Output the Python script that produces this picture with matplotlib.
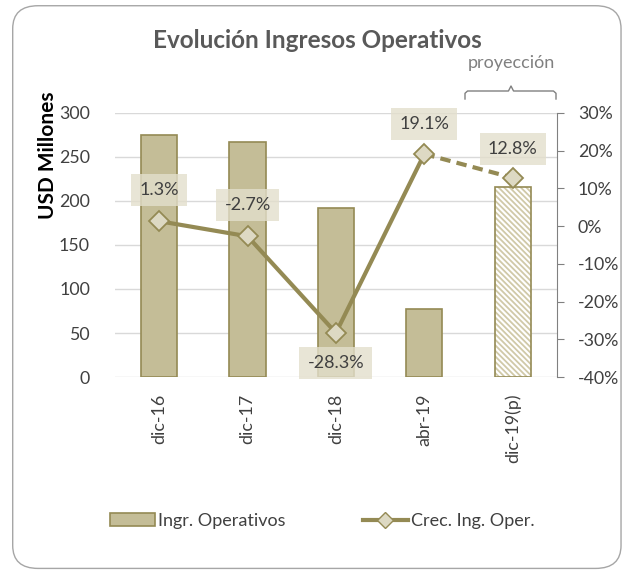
import matplotlib
matplotlib.use("Agg")
import matplotlib.pyplot as plt
from matplotlib.patches import FancyBboxPatch
from matplotlib.lines import Line2D
from matplotlib.patches import Patch
import numpy as np

categories = ["dic-16", "dic-17", "dic-18", "abr-19", "dic-19(p)"]
ingresos = [275, 267, 192, 77, 216]
crecimiento = [1.3, -2.7, -28.3, 19.1, 12.8]
label_offsets = [31, 31, -30, 30, 29]  # pixels, label above(+)/below(-)

plt.rcParams['font.family'] = ['Lato', 'DejaVu Sans']

bar_fill = "#c4bd97"
bar_edge = "#948a54"
line_col = "#948a54"
marker_fill = "#ddd9c3"
text_col = "#404040"
grey = "#808080"

fig = plt.figure(figsize=(6.35, 5.73), dpi=100)
border = FancyBboxPatch((0.02, 0.008), 0.958, 0.982, boxstyle="round,pad=0,rounding_size=0.04",
                        transform=fig.transFigure, fill=False, edgecolor="#a6a6a6", linewidth=1.0)
fig.patches.append(border)

ax = fig.add_axes([0.181, 0.342, 0.696, 0.461])
x = np.arange(len(categories))
w = 0.41
ax.bar(x[:-1], ingresos[:-1], width=w, color=bar_fill, edgecolor=bar_edge, linewidth=1.2, zorder=2)
plt.rcParams['hatch.color'] = "#d0c9a8"
plt.rcParams['hatch.linewidth'] = 1.3
ax.bar(x[-1:], ingresos[-1:], width=w, color="white", edgecolor="#d0c9a8", hatch="\\\\\\\\\\\\", linewidth=0, zorder=2)
ax.bar(x[-1:], ingresos[-1:], width=w, color="none", edgecolor=bar_edge, linewidth=1.2, zorder=3)

ax.set_ylim(0, 300)
ax.set_yticks(range(0, 301, 50))
ax.set_xlim(-0.5, len(categories) - 0.5)
ax.set_xticks(x)
ax.set_xticklabels(categories, rotation=90, fontsize=12.8, color=text_col)
ax.tick_params(axis='x', length=0, pad=12)
ax.tick_params(axis='y', length=0, labelsize=12.8, labelcolor=text_col, pad=18)
ax.grid(axis='y', color="#d9d9d9", linewidth=1, zorder=0)
ax.set_axisbelow(True)
for s in ax.spines.values():
    s.set_visible(False)
ax.set_ylabel("USD Millones", fontsize=15, fontweight='bold', color="black")
ax.yaxis.set_label_coords(-0.128, 0.84)

ax2 = ax.twinx()
ax2.set_ylim(-40, 30)
ax2.set_yticks(range(-40, 31, 10))
ax2.set_yticklabels([f"{v}%" for v in range(-40, 31, 10)])
ax2.tick_params(axis='y', direction='out', length=5, color=grey, labelsize=12.8, labelcolor=text_col, pad=10)
for k, s in ax2.spines.items():
    s.set_visible(k == 'right')
ax2.spines['right'].set_color(grey)

ax2.plot(x[:-1], crecimiento[:-1], color=line_col, linewidth=3, zorder=4, solid_capstyle='round')
ax2.plot(x[-2:], crecimiento[-2:], color=line_col, linewidth=3, linestyle=(0, (2.5, 1.5)), zorder=4)
ax2.plot(x, crecimiento, linestyle='none', marker='D', markersize=10, markerfacecolor=marker_fill,
         markeredgecolor=line_col, markeredgewidth=1.3, zorder=5)

for xi, v, off in zip(x, crecimiento, label_offsets):
    ax2.annotate(f"{v}%", (xi, v), xytext=(0, off), textcoords='offset pixels', ha='center', va='center',
                 fontsize=13, color=text_col, zorder=6,
                 bbox=dict(boxstyle="square,pad=0.45", facecolor="#e3dfcc", edgecolor="none", alpha=0.8))

fig.text(0.5, 1 - 40/573, "Evolución Ingresos Operativos", ha='center', va='center', fontsize=17.5,
         fontweight='bold', color="#595959")

# proyección bracket
fig.text(511/635, 1 - 63/573, "proyección", ha='center', va='center', fontsize=13, color=grey)
bx0, bx1, bm = 465/635, 556/635, 511/635
yb, yt = 1 - 99/573, 1 - 86/573
ymid = 1 - 91/573
fig.lines.append(Line2D([bx0, bx0, bx0 + 0.004, bm - 0.004, bm, bm + 0.004, bx1 - 0.004, bx1, bx1],
                        [yb, ymid - 0.004, ymid, ymid, yt, ymid, ymid, ymid - 0.004, yb],
                        transform=fig.transFigure, color=grey, linewidth=1.0))

handles = [Patch(facecolor=bar_fill, edgecolor=bar_edge, linewidth=1.2),
           Line2D([0], [0], color=line_col, linewidth=3, marker='D', markersize=8,
                  markerfacecolor=marker_fill, markeredgecolor=line_col)]
leg = fig.legend(handles, ["Ingr. Operativos", "Crec. Ing. Oper."], loc='center', ncol=2,
                 bbox_to_anchor=(322/635, 1 - 521/573), frameon=False, fontsize=13,
                 handlelength=2.5, handleheight=0.7, columnspacing=4.3, handletextpad=0.15)
for t in leg.get_texts():
    t.set_color(text_col)

fig.savefig("out.png", dpi=100)
